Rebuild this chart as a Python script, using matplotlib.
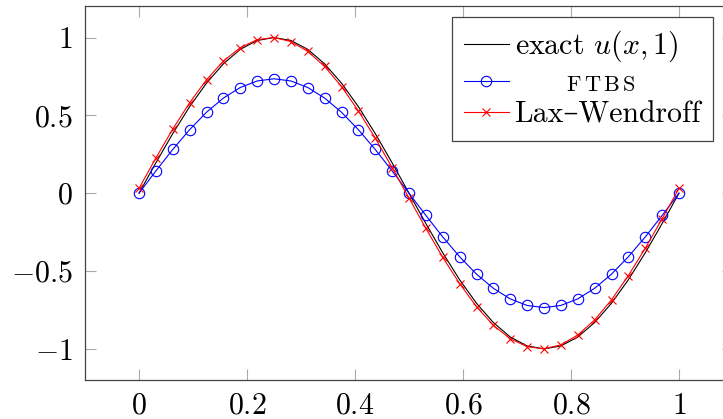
import matplotlib
matplotlib.use("Agg")
import matplotlib.pyplot as plt
from matplotlib.ticker import FuncFormatter

# ---- data ----
x = [k / 32 for k in range(33)]

exact = [0.000, 0.195, 0.383, 0.556, 0.707, 0.831, 0.924, 0.981, 1.000,
         0.981, 0.924, 0.831, 0.707, 0.556, 0.383, 0.195, 0.000,
         -0.195, -0.383, -0.556, -0.707, -0.831, -0.924, -0.981, -1.000,
         -0.981, -0.924, -0.831, -0.707, -0.556, -0.383, -0.195, 0.000]

ftbs = [0.000, 0.143, 0.281, 0.408, 0.520, 0.611, 0.679, 0.721, 0.735,
        0.721, 0.679, 0.611, 0.520, 0.408, 0.281, 0.143, 0.000,
        -0.143, -0.281, -0.408, -0.520, -0.611, -0.679, -0.721, -0.735,
        -0.721, -0.679, -0.611, -0.520, -0.408, -0.281, -0.143, 0.000]

laxw = [0.031, 0.226, 0.412, 0.581, 0.729, 0.849, 0.935, 0.986, 1.000,
        0.974, 0.911, 0.814, 0.685, 0.529, 0.354, 0.164, -0.031,
        -0.226, -0.412, -0.581, -0.729, -0.849, -0.935, -0.986, -1.000,
        -0.974, -0.911, -0.814, -0.685, -0.529, -0.354, -0.164, 0.031]

xticks = [0, 0.2, 0.4, 0.6, 0.8, 1]
yticks = [-1, -0.5, 0, 0.5, 1]

labels = ["exact $u(x,1)$", "FTBS", "Lax\u2013Wendroff"]

# ---- style ----
plt.rcParams["font.family"] = ["cmr10", "DejaVu Serif"]
plt.rcParams["mathtext.fontset"] = "cm"
plt.rcParams["axes.formatter.use_mathtext"] = True

FS = 21.5
W, H = 723, 419
fig = plt.figure(figsize=(W / 100, H / 100), dpi=100)
ax = fig.add_axes([85 / W, 1 - 380 / H, (733 - 85) / W, (380 - 6.4) / H])

l1, = ax.plot(x, exact, color="black", lw=0.8)
l2, = ax.plot(x, ftbs, color="blue", lw=0.8, marker="o", markersize=7.5,
              markerfacecolor="none", markeredgewidth=0.8)
l3, = ax.plot(x, laxw, color="red", lw=0.8, marker="x", markersize=5.5,
              markeredgewidth=0.8)

ax.set_xlim(-0.1, 1.1)
ax.set_ylim(-1.2, 1.2)
ax.set_xticks(xticks)
ax.set_yticks(yticks)

def fmt(v, pos):
    return "$" + f"{v:g}" + "$"

ax.xaxis.set_major_formatter(FuncFormatter(fmt))
ax.yaxis.set_major_formatter(FuncFormatter(fmt))

ax.tick_params(direction="in", length=8.2, width=0.8, color="#aaaaaa",
               top=True, right=True, labelsize=FS, pad=9)
for sp in ax.spines.values():
    sp.set_color("#444444")
    sp.set_linewidth(0.9)

leg = ax.legend([l1, l2, l3], labels, loc="upper right",
                bbox_to_anchor=(713 / W, 1 - 17 / H),
                bbox_transform=fig.transFigure, borderaxespad=0,
                fontsize=FS, frameon=True, fancybox=False, framealpha=1,
                edgecolor="#444444", handlelength=1.5, handletextpad=0.2,
                labelspacing=0.2, borderpad=0.4)
leg.get_frame().set_linewidth(0.9)
texts = leg.get_texts()
texts[1].set_text(r"       $\mathrm{F\,T\,B\,S}$")
texts[1].set_fontsize(16)

fig.savefig("out.png", dpi=100)
